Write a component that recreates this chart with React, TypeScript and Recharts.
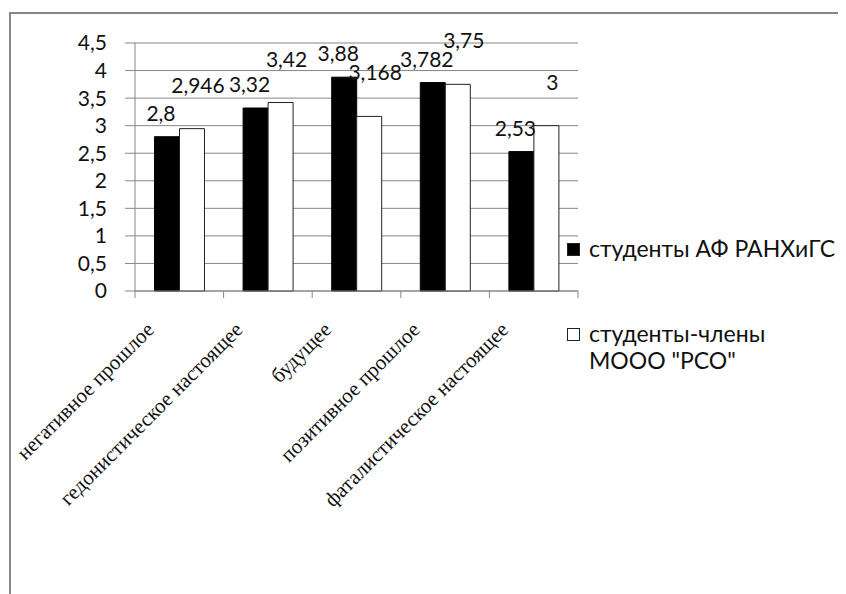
import React from 'react';
import { BarChart, Bar, XAxis, YAxis, CartesianGrid, Legend, LabelList } from 'recharts';

const categories = [
  'негативное прошлое',
  'гедонистическое настоящее',
  'будущее',
  'позитивное прошлое',
  'фаталистическое настоящее',
];
const afValues = [2.8, 3.32, 3.88, 3.782, 2.53];
const rsoValues = [2.946, 3.42, 3.168, 3.75, 3];
const seriesNames = ['студенты АФ РАНХиГС', 'студенты-члены МООО "РСО"'];
const yTicks = [0, 0.5, 1, 1.5, 2, 2.5, 3, 3.5, 4, 4.5];

const data = categories.map((name, i) => ({ name, af: afValues[i], rso: rsoValues[i] }));

const fmt = (v: number) => String(v).replace('.', ',');
const sans = 'Lato, "Open Sans", sans-serif';
const grey = '#868686';

const makeLabel = (dx: number, dy: number) => (props: any) => {
  const { x, y, width, value } = props;
  return (
    <text x={x + width / 2 + dx} y={y + dy} textAnchor="middle" fontFamily={sans} fontSize={21} fill="#111">
      {fmt(value)}
    </text>
  );
};

const CategoryTick = (props: any) => {
  const { x, y, payload, index, width } = props;
  const band = (width || 443) / categories.length;
  const ax = x - 24;
  const ay = y + 40;
  return (
    <g>
      <line x1={x - band / 2} y1={y} x2={x - band / 2} y2={y + 7} stroke={grey} />
      {index === categories.length - 1 && (
        <line x1={x + band / 2} y1={y} x2={x + band / 2} y2={y + 7} stroke={grey} />
      )}
      <text
        x={ax}
        y={ay}
        textAnchor="end"
        transform={`rotate(-45, ${ax}, ${ay})`}
        fontFamily='"Liberation Serif", "Times New Roman", serif'
        fontSize={21}
        fill="#111"
      >
        {payload.value}
      </text>
    </g>
  );
};

const LegendBox = (props: any) => {
  const { payload } = props;
  return (
    <div style={{ fontFamily: sans, fontSize: 23, color: '#111', marginLeft: -11, width: 279 }}>
      {(payload || []).map((entry: any, i: number) => (
        <div key={i} style={{ display: 'flex', alignItems: 'flex-start', marginBottom: i === 0 ? 58 : 0, lineHeight: '27px' }}>
          <span
            style={{
              display: 'inline-block',
              width: 11,
              height: 11,
              marginTop: 8,
              marginRight: 9,
              flex: '0 0 auto',
              background: entry.color === '#000' ? '#000' : '#fff',
              border: '1px solid #222',
            }}
          />
          <span style={{ maxWidth: 255 }}>{entry.value}</span>
        </div>
      ))}
    </div>
  );
};

export default function App() {
  return (
    <div
      style={{
        marginTop: 4,
        marginLeft: 1,
        width: 845,
        height: 582,
        borderTop: `2px solid ${grey}`,
        borderLeft: `2px solid ${grey}`,
        background: '#fff',
      }}
    >
      <BarChart
        width={835}
        height={580}
        data={data}
        margin={{ top: 29, right: 0, left: 64, bottom: 173 }}
        barGap={0}
        barCategoryGap="22%"
      >
        <CartesianGrid vertical={false} stroke={grey} />
        <XAxis
          dataKey="name"
          height={130}
          interval={0}
          tickLine={false}
          tickSize={0}
          tickMargin={0}
          stroke={grey}
          tick={<CategoryTick />}
        />
        <YAxis
          width={60}
          domain={[0, 4.5]}
          ticks={yTicks}
          interval={0}
          tickFormatter={fmt}
          tickSize={10}
          stroke={grey}
          tick={{ fill: '#111', fontFamily: sans, fontSize: 21, dx: -16 }}
        />
        <Legend
          layout="vertical"
          align="right"
          verticalAlign="middle"
          width={268}
          content={<LegendBox />}
        />
        <Bar dataKey="af" name={seriesNames[0]} fill="#000" stroke="#000" isAnimationActive={false}>
          <LabelList dataKey="af" content={makeLabel(-6, -16)} />
        </Bar>
        <Bar dataKey="rso" name={seriesNames[1]} fill="#fff" stroke="#222" isAnimationActive={false}>
          <LabelList dataKey="rso" content={makeLabel(6, -36)} />
        </Bar>
      </BarChart>
    </div>
  );
}
